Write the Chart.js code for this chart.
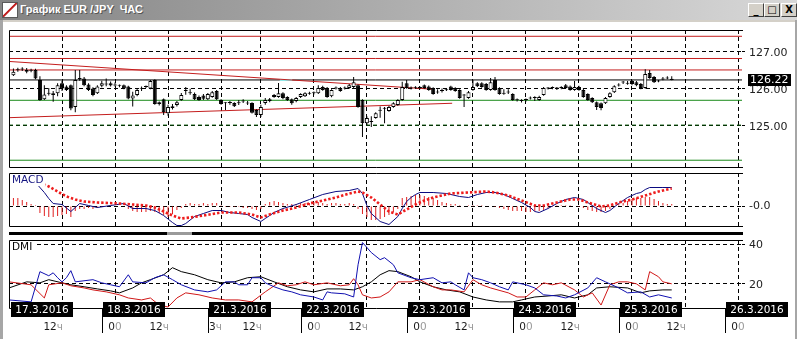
<!DOCTYPE html>
<html><head><meta charset="utf-8">
<script src="https://cdn.jsdelivr.net/npm/chart.js@4.4.1/dist/chart.umd.min.js"></script>
<style>
html,body{margin:0;padding:0;width:797px;height:339px;overflow:hidden;background:#fff;}
#title{position:absolute;left:0;top:0;width:797px;height:20px;background:linear-gradient(to right,#848484,#d8d8d8);}
#ttl{position:absolute;left:20px;top:3px;font:bold 11px "Liberation Sans",Arial,sans-serif;color:#fff;white-space:pre;text-shadow:1px 1px 0 #555;}
#icon{position:absolute;left:2px;top:2px;width:14px;height:14px;background:linear-gradient(135deg,#fff 42%,#c02020 46%,#c02020 52%,#fff 56%);border:1px solid #5a5a5a;}
.btn{position:absolute;top:3px;width:16px;height:14px;background:#d4d0c8;border-top:1px solid #fff;border-left:1px solid #fff;border-right:1px solid #404040;border-bottom:1px solid #404040;box-sizing:border-box;font:bold 10px "DejaVu Sans",sans-serif;color:#000;text-align:center;line-height:12px;}
#fl{position:absolute;left:0;top:20px;width:3px;height:319px;background:#a6a6a6;}
#fr{position:absolute;left:795px;top:20px;width:2px;height:319px;background:#a6a6a6;}
#ft{position:absolute;left:0;top:20px;width:797px;height:2px;background:#d4d0c8;}
canvas{position:absolute;left:0;top:0;}
</style></head>
<body>
<div id="title"><div id="icon"></div><span id="ttl">График EUR /JPY  ЧАС</span>
<div class="btn" style="left:748px">_</div><div class="btn" style="left:764px">□</div><div class="btn" style="left:781px">X</div></div>
<div id="ft"></div><div id="fl"></div><div id="fr"></div>
<canvas id="cPrice" width="797" height="339"></canvas>
<canvas id="cMacd" width="797" height="339"></canvas>
<canvas id="cDmi" width="797" height="339"></canvas>
<script>
// ---------- DATA ----------
const FIRST_BAR = 1; // hourly bar index of the first candle (index 0 = 17.3.2016 00:00)
const opens  = [126.35,126.48,126.50,126.49,126.47,126.49,126.22,125.70,125.85,125.86,
125.86,126.13,126.04,126.08,125.49,126.24,126.26,126.10,125.99,125.86,
126.06,126.10,126.13,126.07,126.06,126.08,126.04,125.72,125.81,125.98,
126.03,125.99,126.22,125.62,125.70,125.32,125.46,125.54,125.68,125.92,
125.86,125.84,125.76,125.80,125.70,125.76,125.92,125.68,125.59,125.60,
125.60,125.59,125.64,125.58,125.60,125.41,125.27,125.60,125.65,125.76,
125.76,125.86,125.76,125.70,125.65,125.76,125.78,125.85,125.86,125.86,
126.03,126.00,125.78,125.99,126.00,125.99,126.00,126.03,126.08,125.68,
125.05,125.08,125.19,125.39,125.44,125.38,125.49,125.54,125.68,126.13,
125.99,126.01,126.00,126.08,126.04,126.00,125.88,125.92,125.94,126.04,
126.00,125.95,125.80,125.73,125.95,126.13,126.13,126.11,125.95,126.22,
126.00,125.85,125.88,125.84,125.67,125.65,125.68,125.72,125.73,125.68,
125.81,125.99,126.00,125.99,126.00,126.08,126.04,125.95,126.03,125.95,
125.84,125.73,125.62,125.59,125.59,125.76,125.89,126.07,126.15,126.12,
126.19,126.16,126.11,126.00,126.41,126.30,126.18,126.23,126.26,126.25];
const highs  = [126.53,126.55,126.56,126.54,126.52,126.52,126.32,126.08,126.00,125.92,
126.13,126.20,126.08,126.10,126.49,126.49,126.30,126.13,126.02,126.08,
126.20,126.26,126.18,126.15,126.10,126.10,126.06,125.90,126.00,126.04,
126.07,126.22,126.24,125.64,125.72,125.55,125.57,125.65,125.87,126.03,
125.98,125.88,125.80,125.84,125.87,125.92,125.95,125.70,125.62,125.65,
125.62,125.68,125.70,125.65,125.62,125.43,125.55,125.73,125.73,125.84,
126.14,125.89,125.78,125.72,125.76,125.86,125.89,125.90,125.91,126.08,
126.06,126.03,125.97,126.04,126.03,126.04,126.11,126.30,126.10,125.70,
125.24,125.24,125.35,125.50,125.49,125.52,125.62,125.70,126.17,126.22,
126.04,126.05,126.04,126.10,126.07,126.02,125.97,125.99,126.00,126.06,
126.02,125.97,125.84,125.92,126.22,126.16,126.16,126.14,126.27,126.30,
126.02,125.97,125.97,125.86,125.72,125.70,125.72,125.77,125.78,125.79,
126.03,126.03,126.04,126.03,126.05,126.11,126.07,126.19,126.06,125.98,
125.86,125.75,125.64,125.61,125.76,125.89,126.08,126.13,126.19,126.19,
126.22,126.19,126.14,126.51,126.49,126.33,126.22,126.30,126.32,126.32];
const lows   = [126.33,126.44,126.46,126.40,126.43,126.24,125.66,125.68,125.80,125.63,
125.78,125.92,125.92,125.40,125.35,126.20,126.05,125.92,125.78,125.84,
126.02,126.05,126.04,126.04,126.02,125.97,125.70,125.50,125.78,125.92,
126.00,125.97,125.55,125.53,125.27,125.25,125.42,125.50,125.66,125.82,
125.82,125.68,125.66,125.68,125.68,125.74,125.68,125.55,125.41,125.55,
125.49,125.54,125.60,125.54,125.31,125.22,125.22,125.55,125.62,125.74,
125.74,125.70,125.65,125.55,125.62,125.73,125.76,125.82,125.83,125.84,
125.93,125.74,125.75,125.96,125.90,125.96,125.98,126.00,125.47,124.68,
125.00,124.95,125.17,125.20,125.05,125.36,125.47,125.52,125.66,125.98,
125.96,125.98,125.97,125.98,125.93,125.82,125.85,125.88,125.92,125.93,
125.90,125.71,125.49,125.71,125.93,126.03,126.01,125.93,125.93,125.93,
125.82,125.82,125.84,125.66,125.64,125.61,125.64,125.69,125.65,125.66,
125.79,125.96,125.97,125.95,125.97,125.98,125.93,125.93,125.93,125.74,
125.66,125.60,125.41,125.40,125.57,125.74,125.87,126.04,126.11,126.09,
126.08,126.05,125.97,125.98,126.25,126.14,126.16,126.21,126.24,126.21];
const closes = [126.44,126.50,126.51,126.44,126.48,126.26,125.68,125.83,125.87,125.81,
126.08,125.99,125.95,125.45,126.22,126.27,126.08,125.95,125.81,126.04,
126.13,126.12,126.07,126.09,126.06,125.99,125.72,125.80,125.95,125.99,
126.04,126.19,125.57,125.57,125.35,125.49,125.51,125.62,125.81,125.94,
125.88,125.70,125.68,125.71,125.84,125.89,125.70,125.57,125.61,125.61,
125.51,125.61,125.66,125.60,125.33,125.27,125.49,125.68,125.70,125.81,
125.86,125.73,125.68,125.59,125.73,125.84,125.86,125.87,125.87,126.00,
125.95,125.76,125.95,126.00,125.92,126.00,126.08,126.16,125.49,125.05,
125.19,125.10,125.32,125.41,125.46,125.49,125.59,125.68,126.03,126.00,
126.01,126.03,126.01,126.00,125.95,125.84,125.90,125.95,125.96,125.95,
125.92,125.73,125.82,125.89,126.03,126.05,126.03,125.95,126.16,125.95,
125.84,125.87,125.90,125.68,125.69,125.66,125.69,125.74,125.74,125.76,
126.00,126.00,126.01,126.00,126.02,126.00,125.95,126.03,125.95,125.76,
125.68,125.62,125.49,125.46,125.73,125.86,126.05,126.08,126.16,126.14,
126.11,126.08,126.00,126.38,126.27,126.16,126.19,126.24,126.27,126.22];
const lastPrice = 126.22;

// horizontal price levels and trend lines (price values; bar index for ends)
const levelPrices = [127.40, 126.80, 126.49, 126.22, 125.67, 125.00, 124.05];
const trendDown = [[0, 126.72], [95.7, 125.97]];
const trendUp   = [[0, 125.20], [100.3, 125.59]];
const cyanMark  = [[61.3, 126.22], [64.1, 126.22]];

// MACD histogram (one per candle), MACD line and signal (bar index, value)
const macdHist = [0.08,0.08,0.06,0.04,0.02,0.01,-0.07,-0.10,-0.11,-0.11,
-0.10,-0.09,-0.08,-0.11,-0.05,-0.03,-0.03,-0.02,-0.03,-0.02,
-0.01,0.005,0.005,0.005,0.005,-0.005,-0.03,-0.05,-0.06,-0.06,
-0.06,-0.05,-0.06,-0.07,-0.09,-0.11,-0.08,-0.04,-0.02,0.02,
0.03,0.02,0.02,0.03,0.02,0.03,0.03,0.01,-0.01,-0.01,
-0.01,-0.01,-0.02,-0.02,-0.03,-0.04,-0.03,0.02,0.04,0.05,
0.04,0.03,0.02,0.02,0.02,0.03,0.03,0.03,0.04,0.04,
0.03,0.02,0.03,0.03,0.02,0.02,0.03,0.02,-0.03,-0.08,
-0.11,-0.14,-0.14,-0.13,-0.11,-0.09,-0.06,-0.03,0.08,0.09,
0.10,0.11,0.11,0.10,0.09,0.08,0.06,0.04,0.03,0.02,
0.02,0.01,0.005,0.01,0.01,0.01,0.01,0.005,0.005,-0.01,
-0.02,-0.03,-0.04,-0.05,-0.05,-0.05,-0.06,-0.06,-0.05,-0.05,
-0.04,-0.02,-0.01,0.01,0.01,0.01,0.01,0.005,-0.01,-0.02,
-0.04,-0.05,-0.06,-0.06,-0.05,-0.03,-0.01,0.02,0.03,0.05,
0.07,0.08,0.08,0.09,0.09,0.07,0.05,0.03,0.02,0.02];
const macdLine = [[3,0.31],[6,0.235],[8,0.135],[9,0.075],[10,0.025],[12,0.015],[14,-0.055],[16,0.025],[18,0.005],[20,-0.015],
[23,0.005],[26,0.025],[28,-0.025],[31,-0.025],[33,-0.045],[35,-0.095],[37,-0.165],[38,-0.195],[39,-0.195],[40,-0.175],
[42,-0.105],[44,-0.075],[46,-0.045],[48,-0.045],[50,-0.065],[52,-0.075],[54,-0.085],[55,-0.115],[57,-0.155],[58,-0.125],
[60,-0.065],[62,-0.025],[65,0.015],[68,0.065],[71,0.115],[74,0.145],[77,0.155],[79,0.175],[80,0.125],[81,0.005],
[82,-0.075],[84,-0.155],[86,-0.185],[88,-0.105],[89,-0.025],[90,0.045],[91,0.085],[92,0.115],[93,0.135],[96,0.135],
[99,0.125],[102,0.095],[104,0.085],[106,0.115],[108,0.135],[110,0.135],[112,0.115],[114,0.075],[116,0.035],[118,-0.015],
[119,-0.055],[120,-0.065],[122,-0.025],[124,0.025],[126,0.065],[128,0.085],[130,0.065],[131,0.035],[133,-0.025],[135,-0.065],
[136,-0.045],[138,0.025],[140,0.085],[142,0.125],[143,0.135],[144,0.165],[145,0.185],[148,0.185],[150,0.185]];
const macdSignal = [[1,0.215],[4,0.245],[7,0.235],[8,0.215],[9,0.195],[11,0.145],[13,0.095],[15,0.065],[17,0.045],[20,0.035],
[25,0.025],[28,0.015],[31,0.005],[33,-0.015],[35,-0.055],[37,-0.095],[39,-0.125],[41,-0.115],[44,-0.095],[48,-0.065],
[52,-0.065],[55,-0.085],[57,-0.115],[59,-0.085],[62,-0.045],[65,-0.015],[68,0.025],[71,0.055],[74,0.085],[77,0.125],
[79,0.145],[80,0.135],[82,0.085],[84,0.015],[86,-0.055],[88,-0.085],[90,-0.035],[92,0.015],[94,0.055],[96,0.085],
[100,0.125],[104,0.135],[108,0.145],[110,0.135],[113,0.105],[116,0.055],[119,0.005],[121,0.005],[124,0.035],[127,0.065],
[129,0.065],[131,0.035],[134,-0.005],[136,0.005],[138,0.035],[141,0.065],[144,0.105],[147,0.145],[150,0.175]];

// DMI: +DI (blue), -DI (red), ADX (black) as (bar index, value)
const diPlus = [[0,11.8],[5,10.8],[7,26.2],[9,24.1],[10,25.6],[11,23.1],[12,21.0],[13,23.1],[14,26.7],[15,21.0],
[19,22.1],[21,20.5],[23,19.5],[25,18.5],[27,24.6],[28,21.0],[31,20.5],[33,23.1],[35,24.6],[37,22.1],
[39,19.5],[42,16.9],[45,15.9],[47,16.9],[49,21.0],[51,21.0],[52,19.5],[54,19.5],[55,23.1],[57,23.1],
[58,20.5],[60,18.5],[62,16.9],[64,15.9],[66,14.4],[69,13.3],[71,11.8],[72,15.9],[73,15.4],[76,14.9],
[78,13.3],[79,29.7],[80,41.0],[81,38.5],[82,35.9],[84,32.3],[85,33.3],[87,29.7],[88,25.6],[91,23.1],
[93,22.1],[96,23.1],[98,20.5],[100,21.0],[101,19.5],[103,16.9],[104,25.6],[105,23.1],[107,22.1],[109,20.5],
[111,18.5],[113,16.9],[114,21.0],[116,20.0],[117,19.5],[119,17.9],[121,14.4],[124,13.8],[126,12.8],[128,14.4],
[131,17.9],[133,23.1],[135,21.0],[138,17.9],[140,15.4],[143,15.9],[145,13.3],[147,14.4],[150,12.8]];
const diMinus = [[0,21.0],[5,19.5],[8,12.8],[9,19.5],[12,20.5],[14,19.0],[17,17.9],[19,16.9],[22,15.9],[25,14.4],
[27,12.8],[30,11.8],[32,12.8],[34,9.2],[36,8.2],[38,12.8],[40,15.4],[43,14.4],[46,12.8],[49,11.8],
[52,11.8],[55,10.8],[58,15.9],[61,20.5],[63,19.0],[65,19.5],[67,21.0],[69,19.5],[72,20.5],[75,19.0],
[77,19.5],[78,22.6],[79,19.5],[80,14.4],[82,12.8],[84,13.3],[86,15.9],[88,21.0],[91,21.0],[93,22.1],
[96,18.5],[98,16.9],[100,16.9],[103,15.9],[105,22.1],[107,19.5],[109,17.9],[113,15.4],[115,13.3],[117,13.3],
[119,16.9],[121,20.5],[123,19.5],[125,20.5],[128,16.9],[130,13.3],[132,15.4],[134,9.2],[136,19.5],[138,21.0],
[140,21.0],[142,20.0],[144,16.9],[145,26.2],[147,23.6],[148,21.0],[150,20.0]];
const adx = [[0,17.9],[4,21.0],[7,20.5],[9,22.1],[12,20.5],[14,19.5],[17,18.5],[20,17.4],[23,16.4],[25,15.4],
[28,17.9],[30,20.5],[32,22.1],[35,24.6],[37,28.2],[39,26.2],[42,24.6],[45,22.1],[48,20.5],[51,21.0],
[54,23.1],[57,23.6],[60,21.0],[63,18.5],[66,16.9],[69,15.9],[72,17.4],[75,17.4],[78,16.9],[80,18.5],
[82,21.0],[84,24.6],[86,26.7],[88,26.2],[91,23.6],[93,21.0],[96,18.5],[99,16.9],[102,15.9],[105,13.3],
[108,11.8],[111,10.8],[114,10.8],[116,11.8],[119,13.3],[122,13.8],[125,14.4],[128,12.8],[131,14.4],[133,17.9],
[136,18.5],[140,17.9],[143,15.4],[145,16.4],[148,16.9],[150,16.9]];

// time axis: grid bar indices, hour labels, date labels
const gridIdx    = [12,24,36,48,57,69,81,93,105,117,129,141,153,165];
const hourLabels = ['12ч','00','12ч','3ч','12ч','00','12ч','00','12ч','00','12ч','00','12ч','00'];
const dateIdx    = [0,24,48,69,93,117,141,165];
const dateLabels = ['17.3.2016','18.3.2016','21.3.2016','22.3.2016','23.3.2016','24.3.2016','25.3.2016','26.3.2016'];
const priceTicks = [125, 126, 127];
const macdTicks  = [0];
const dmiTicks   = [20, 40];

// ---------- STYLE / CONFIG ----------
const X_MIN = 0, X_MAX = 165.9;
const FONT = 'DejaVu Sans';
Chart.defaults.font.family = FONT;
Chart.defaults.animation = false;
const levelColors = ['#c41e1e','#c41e1e','#c41e1e','#000000','#1a8a1a','#0a5a0a','#1a8a1a'];
const levelDash   = [[],[],[],[],[],[4,3],[]];

function xScale() {
  return {
    type:'linear', min:X_MIN, max:X_MAX, display:true, offset:false,
    afterBuildTicks: s => { s.ticks = gridIdx.map(v => ({value:v})); },
    ticks:{display:false},
    grid:{color:'#000', lineWidth:1, drawTicks:false, offset:false},
    border:{display:false, dash:[4,3]}
  };
}
function yScale(min, max, vals, fmt, off) {
  return {
    type:'linear', position:'right', min, max,
    afterBuildTicks: s => { s.ticks = vals.map(v => ({value:v})); },
    afterFit: s => { s.width = 55; },
    ticks:{color:'#222', font:{size:11, family:FONT}, padding:4, labelOffset:off, callback:fmt},
    grid:{color:'#000', lineWidth:1, drawTicks:true, tickLength:3},
    border:{display:false, dash:[4,3]}
  };
}
const framePlugin = {
  id:'frame',
  afterDatasetsDraw(chart) {
    const {ctx, chartArea:a} = chart;
    ctx.save(); ctx.strokeStyle = '#000'; ctx.lineWidth = 1; ctx.setLineDash([]);
    ctx.beginPath();
    ctx.moveTo(a.right + 1, a.top + 0.5); ctx.lineTo(a.left + 0.5, a.top + 0.5);
    ctx.lineTo(a.left + 0.5, a.bottom - 0.5); ctx.lineTo(a.right + 1, a.bottom - 0.5);
    ctx.stroke(); ctx.restore();
  }
};
const namePlugin = {
  id:'panelName',
  afterDraw(chart, args, o) {
    if (!o.text) return;
    const {ctx, chartArea:a} = chart;
    ctx.save();
    ctx.font = '10.5px "' + FONT + '"';
    const w = ctx.measureText(o.text).width;
    ctx.fillStyle = '#fff'; ctx.fillRect(a.left + 1, a.top + 1, w + 4, 12);
    ctx.fillStyle = o.color; ctx.textBaseline = 'top';
    ctx.fillText(o.text, a.left + 3, a.top + 2);
    ctx.restore();
  }
};
const tagPlugin = {
  id:'priceTag',
  afterDraw(chart) {
    const {ctx, chartArea:a, scales} = chart;
    const y = scales.y.getPixelForValue(lastPrice);
    ctx.save(); ctx.fillStyle = '#000';
    ctx.fillRect(a.right + 6, Math.round(y) - 6, 43, 12);
    ctx.fillStyle = '#fff'; ctx.font = '11px "' + FONT + '"';
    ctx.textAlign = 'left'; ctx.textBaseline = 'middle';
    ctx.fillText(lastPrice.toFixed(2), a.right + 8, Math.round(y) + 0.5);
    ctx.restore();
  }
};
const timePlugin = {
  id:'timeAxis',
  beforeDraw(chart) {
    const {ctx, chartArea:a} = chart;
    // splitter bar between MACD and DMI panels
    ctx.save(); ctx.fillStyle = '#000';
    ctx.fillRect(a.left, 232, a.right - a.left + 1, 3);
    ctx.fillStyle = '#9a9a9a'; ctx.fillRect(167, 232, 25, 3);
    ctx.restore();
  },
  afterDraw(chart) {
    const {ctx, chartArea:a, scales} = chart;
    const xs = scales.x;
    ctx.save();
    ctx.font = '10.5px "' + FONT + '"';
    ctx.textBaseline = 'middle';
    // date boxes
    dateIdx.forEach((d, k) => {
      const px = Math.round(xs.getPixelForValue(d));
      const left = Math.max(a.left + 1, px - 13);
      if (d > 0) {
        ctx.strokeStyle = '#000'; ctx.lineWidth = 1;
        ctx.beginPath(); ctx.moveTo(left + 0.5, a.bottom); ctx.lineTo(left + 0.5, 333); ctx.stroke();
      }
      ctx.fillStyle = '#000'; ctx.fillRect(left + 1, 302, 62, 15);
      ctx.fillStyle = '#fff'; ctx.textAlign = 'center';
      ctx.fillText(dateLabels[k], left + 32, 310);
    });
    // hour labels
    gridIdx.forEach((g, k) => {
      const px = Math.round(xs.getPixelForValue(g));
      const t = hourLabels[k];
      const main = t.slice(0, -1), tail = t.slice(-1);
      ctx.textAlign = 'left';
      const wm = ctx.measureText(main).width, wt = ctx.measureText(tail).width;
      let x0 = tail === 'ч' ? px + 1 - wm - wt : px - (wm + wt) / 2;
      ctx.fillStyle = '#1a1a1a'; ctx.fillText(main, x0, 327);
      ctx.fillStyle = '#9a9a9a'; ctx.fillText(tail, x0 + wm, 327);
    });
    ctx.restore();
  }
};
const common = {
  responsive:false, devicePixelRatio:1, animation:false,
  plugins:{legend:{display:false}, tooltip:{enabled:false}},
};
function lineDs(points, color, width, dash, order) {
  return {type:'line', data: points.map(p => ({x:p[0], y:p[1]})), borderColor:color, borderWidth:width,
          borderDash:dash || [], pointRadius:0, tension:0, fill:false, order:order};
}

// ---------- PRICE CHART ----------
const bodies = opens.map((o, k) => ({x:k + FIRST_BAR, y:[o, closes[k]]}));
const wicks  = lows.map((l, k) => ({x:k + FIRST_BAR, y:[l, highs[k]]}));
const bodyColors = opens.map((o, k) => closes[k] >= o ? '#ffffff' : '#000000');
const priceSets = [
  {type:'bar', data:bodies, backgroundColor:bodyColors, borderColor:'#000', borderWidth:1, borderSkipped:false,
   barThickness:4, minBarLength:1, grouped:false, inflateAmount:0, order:0},
  {type:'bar', data:wicks, backgroundColor:'#000', borderWidth:0, barThickness:1, grouped:false, inflateAmount:0, order:1}
];
levelPrices.forEach((v, k) => priceSets.push(lineDs([[X_MIN, v], [X_MAX, v]], levelColors[k], 1, levelDash[k], 3)));
priceSets.push(lineDs(trendDown, '#c41e1e', 1, null, 2));
priceSets.push(lineDs(trendUp, '#c41e1e', 1, null, 2));
priceSets.push(lineDs(cyanMark, '#8ef0f0', 2, null, 2));

new Chart(document.getElementById('cPrice'), {
  type:'bar', data:{datasets:priceSets},
  options:Object.assign({}, common, {
    layout:{padding:{left:9, top:30, bottom:171, right:0}},
    scales:{x:xScale(), y:yScale(123.84, 127.57, priceTicks, v => v.toFixed(2), 2)}
  }),
  plugins:[framePlugin, tagPlugin]
});

// ---------- MACD CHART ----------
new Chart(document.getElementById('cMacd'), {
  type:'bar',
  data:{datasets:[
    lineDs(macdSignal, '#ee1c1c', 2.6, [2.4, 2.0], 0),
    lineDs(macdLine, '#0a0a80', 1, null, 1),
    {type:'bar', data:macdHist.map((h, k) => ({x:k + FIRST_BAR, y:h})), backgroundColor:'#e02020',
     barThickness:1, grouped:false, inflateAmount:0, order:2}
  ]},
  options:Object.assign({}, common, {
    layout:{padding:{left:9, top:173, bottom:112, right:0}},
    plugins:Object.assign({}, common.plugins, {panelName:{text:'MACD', color:'#141480'}}),
    scales:{x:xScale(), y:yScale(-0.21, 0.33, macdTicks, () => '-0.0', 0)}
  }),
  plugins:[framePlugin, namePlugin]
});

// ---------- DMI CHART ----------
new Chart(document.getElementById('cDmi'), {
  type:'line',
  data:{datasets:[
    lineDs(adx, '#000000', 1, null, 2),
    lineDs(diMinus, '#d01818', 1, null, 1),
    lineDs(diPlus, '#1010b0', 1, null, 0)
  ]},
  options:Object.assign({}, common, {
    layout:{padding:{left:9, top:240, bottom:30, right:0}},
    plugins:Object.assign({}, common.plugins, {panelName:{text:'DMI', color:'#000'}}),
    scales:{x:xScale(), y:yScale(7.18, 42.3, dmiTicks, v => String(v), 1)}
  }),
  plugins:[framePlugin, namePlugin, timePlugin]
});
</script>
</body></html>
